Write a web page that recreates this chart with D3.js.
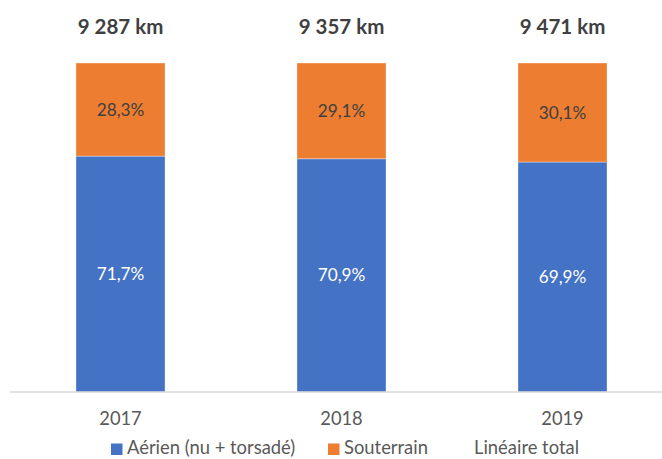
<!DOCTYPE html>
<html>
<head>
<meta charset="utf-8">
<script src="https://cdn.jsdelivr.net/npm/d3@7"></script>
<style>
  html, body { margin: 0; padding: 0; background: #fff; }
  svg { display: block; font-family: Lato, "Open Sans", sans-serif; }
</style>
</head>
<body>
<svg id="chart" width="662" height="459"></svg>
<script>
const categories = ["2017", "2018", "2019"];
const aerien = [71.7, 70.9, 69.9];
const souterrain = [28.3, 29.1, 30.1];
const totals = ["9 287 km", "9 357 km", "9 471 km"];
const seriesNames = ["Aérien (nu + torsadé)", "Souterrain", "Linéaire total"];
const colors = ["#4472C4", "#ED7D31"];

const svg = d3.select("#chart");
const W = 662;

const x = d3.scaleBand().domain(categories).range([10, 673])
  .paddingInner(0.597).paddingOuter(0.2985);
const y = d3.scaleLinear().domain([0, 100]).range([392, 63]);

const rows = categories.map((c, i) => ({cat: c, "Aérien": aerien[i], "Souterrain": souterrain[i]}));
const stack = d3.stack().keys(["Aérien", "Souterrain"]);
const stacked = stack(rows);

const fmt = v => v.toFixed(1).replace(".", ",") + "%";

stacked.forEach((s, si) => {
  const g = svg.append("g");
  g.selectAll("rect").data(s).join("rect")
    .attr("x", d => x(d.data.cat))
    .attr("width", x.bandwidth())
    .attr("y", d => y(d[1]))
    .attr("height", d => y(d[0]) - y(d[1]))
    .attr("fill", colors[si])
    .attr("stroke", "#ffffff")
    .attr("stroke-opacity", 0.35)
    .attr("stroke-width", 1);
  g.selectAll("text").data(s).join("text")
    .attr("x", d => x(d.data.cat) + x.bandwidth() / 2)
    .attr("y", d => (y(d[0]) + y(d[1])) / 2)
    .attr("dy", "0.35em")
    .attr("text-anchor", "middle")
    .attr("font-size", 17.2)
    .attr("fill", si === 0 ? "#ffffff" : "#404040")
    .text(d => fmt(d[1] - d[0]));
});

// axis
const axis = svg.append("g").attr("transform", `translate(0,${y(0)})`)
  .call(d3.axisBottom(x).tickSize(0).tickPadding(0));
axis.select(".domain").attr("d", `M10,0H${W}`).attr("stroke", "#d9d9d9").attr("stroke-width", 1.5);
axis.selectAll(".tick text")
  .attr("y", 26.6).attr("dy", "0.35em")
  .attr("font-size", 18.3).attr("font-family", "Lato, 'Open Sans', sans-serif")
  .attr("fill", "#595959");

// totals (Linéaire total labels)
svg.append("g").selectAll("text").data(categories).join("text")
  .attr("x", d => x(d) + x.bandwidth() / 2)
  .attr("y", 27)
  .attr("dy", "0.35em")
  .attr("text-anchor", "middle")
  .attr("font-size", 20.5)
  .attr("font-weight", "bold")
  .attr("fill", "#404040")
  .text((d, i) => totals[i]);

// legend
const legendItems = [
  {name: seriesNames[0], color: colors[0], x: 111},
  {name: seriesNames[1], color: colors[1], x: 328},
  {name: seriesNames[2], color: null, x: 458}
];
const lg = svg.append("g");
legendItems.forEach(it => {
  if (it.color) {
    lg.append("rect").attr("x", it.x).attr("y", 443.5).attr("width", 11.5).attr("height", 11.5).attr("fill", it.color);
  }
  lg.append("text").attr("x", it.x + 16).attr("y", 448).attr("dy", "0.35em")
    .attr("font-size", 18.4).attr("fill", "#595959").text(it.name);
});
</script>
</body>
</html>
